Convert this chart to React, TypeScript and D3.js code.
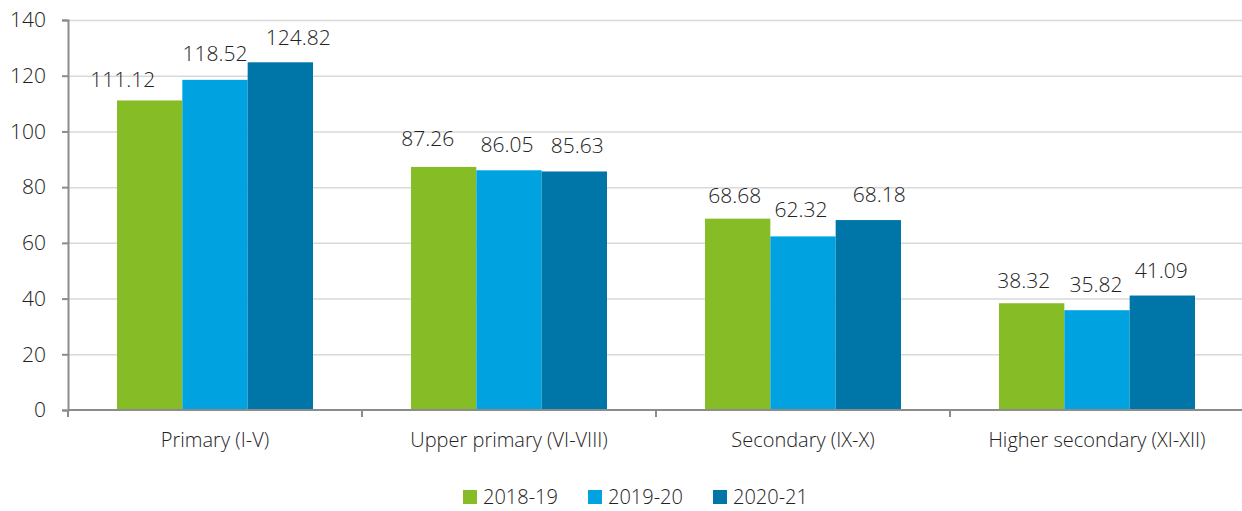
import React, { useRef, useEffect } from 'react';
import * as d3 from 'd3';

const categories = ['Primary (I-V)', 'Upper primary (VI-VIII)', 'Secondary (IX-X)', 'Higher secondary (XI-XII)'];
const years = ['2018-19', '2019-20', '2020-21'];
const values2018 = [111.12, 87.26, 68.68, 38.32];
const values2019 = [118.52, 86.05, 62.32, 35.82];
const values2020 = [124.82, 85.63, 68.18, 41.09];
const yTicks = [0, 20, 40, 60, 80, 100, 120, 140];
const colors = ['#86bc25', '#00a3e0', '#0076a8'];

// small manual shifts of the value labels, as placed in the original (per series, per category)
const labelNudge: [number, number][][] = [
  [[-27, 5], [-16, -3], [-3, 2], [-8, 3]],
  [[0, -1], [-2, 0], [-2, -1], [-1, 0]],
  [[18, 1], [3, 0], [11, 0], [-1, 0]],
];

const W = 1242;
const H = 511;
const FONT = '"Open Sans", sans-serif';
const TXT = '#222';

const draw = (svgRef: React.RefObject<SVGSVGElement | null>) => {
  const svgEl = d3.select(svgRef.current);
  svgEl.selectAll('*').remove();

  const margin = { left: 68, right: -2, top: 20, bottom: 101 };
  const series = [values2018, values2019, values2020];

  const x0 = d3.scaleBand<string>()
    .domain(categories)
    .range([margin.left, W - margin.right])
    .paddingInner(0)
    .paddingOuter(0);

  const groupPad = 49 / 294;
  const x1 = d3.scaleBand<string>()
    .domain(years)
    .range([x0.bandwidth() * groupPad, x0.bandwidth() * (1 - groupPad)]);

  const y = d3.scaleLinear()
    .domain([0, 140])
    .range([H - margin.bottom, margin.top]);

  const g = svgEl.append('g');

  // lignes de grille
  g.append('g')
    .selectAll('line')
    .data(yTicks.filter(d => d > 0))
    .join('line')
    .attr('x1', margin.left)
    .attr('x2', W)
    .attr('y1', d => y(d) + 0.5)
    .attr('y2', d => y(d) + 0.5)
    .attr('stroke', '#d9d9d9')
    .attr('stroke-width', 1.5);

  // barres
  years.forEach((yr, si) => {
    g.append('g')
      .selectAll('rect')
      .data(series[si])
      .join('rect')
      .attr('x', (d, i) => (x0(categories[i]) as number) + (x1(yr) as number))
      .attr('y', d => y(d))
      .attr('width', x1.bandwidth())
      .attr('height', d => y(0) - y(d))
      .attr('fill', colors[si]);

    g.append('g')
      .selectAll('text')
      .data(series[si])
      .join('text')
      .attr('x', (d, i) => (x0(categories[i]) as number) + (x1(yr) as number) + x1.bandwidth() / 2 + labelNudge[si][i][0])
      .attr('y', (d, i) => y(d) - 18 + labelNudge[si][i][1])
      .attr('text-anchor', 'middle')
      .attr('font-family', FONT)
      .attr('font-weight', 300)
      .attr('font-size', 21)
      .attr('fill', TXT)
      .text(d => d.toFixed(2));
  });

  // axe y
  const yAxis = d3.axisLeft(y)
    .tickValues(yTicks)
    .tickSize(6)
    .tickPadding(16)
    .tickFormat(d3.format('d'));

  g.append('g')
    .attr('transform', `translate(${margin.left},0)`)
    .call(yAxis)
    .call(s => s.selectAll('line, path').attr('stroke', '#8c8c8c').attr('stroke-width', 2))
    .call(s => s.selectAll('text')
      .attr('font-family', FONT)
      .attr('font-weight', 300)
      .attr('font-size', 21)
      .attr('fill', TXT));

  // axe x
  const bounds = categories.map(c => x0(c) as number);
  g.append('line')
    .attr('x1', margin.left)
    .attr('x2', W)
    .attr('y1', y(0))
    .attr('y2', y(0))
    .attr('stroke', '#8c8c8c')
    .attr('stroke-width', 2);

  g.append('g')
    .selectAll('line')
    .data(bounds)
    .join('line')
    .attr('x1', d => d)
    .attr('x2', d => d)
    .attr('y1', y(0))
    .attr('y2', y(0) + 7)
    .attr('stroke', '#8c8c8c')
    .attr('stroke-width', 2);

  g.append('g')
    .selectAll('text')
    .data(categories)
    .join('text')
    .attr('x', d => (x0(d) as number) + x0.bandwidth() / 2)
    .attr('y', 447)
    .attr('text-anchor', 'middle')
    .attr('font-family', FONT)
    .attr('font-weight', 300)
    .attr('font-size', 20)
    .attr('fill', TXT)
    .text(d => d);

  // légende
  const legend = g.append('g');
  years.forEach((yr, i) => {
    const lx = 463 + i * 125;
    legend.append('rect')
      .attr('x', lx)
      .attr('y', 490)
      .attr('width', 14)
      .attr('height', 14)
      .attr('fill', colors[i]);
    legend.append('text')
      .attr('x', lx + 20)
      .attr('y', 504)
      .attr('font-family', FONT)
      .attr('font-weight', 300)
      .attr('font-size', 20)
      .attr('fill', TXT)
      .text(yr);
  });
};

export default function App() {
  const svgRef = useRef<SVGSVGElement | null>(null);

  useEffect(() => {
    draw(svgRef);
  }, []);

  return (
    <svg
      ref={svgRef}
      width={W}
      height={H}
      style={{ position: 'absolute', top: 0, left: 0, background: '#fff' }}
    />
  );
}
